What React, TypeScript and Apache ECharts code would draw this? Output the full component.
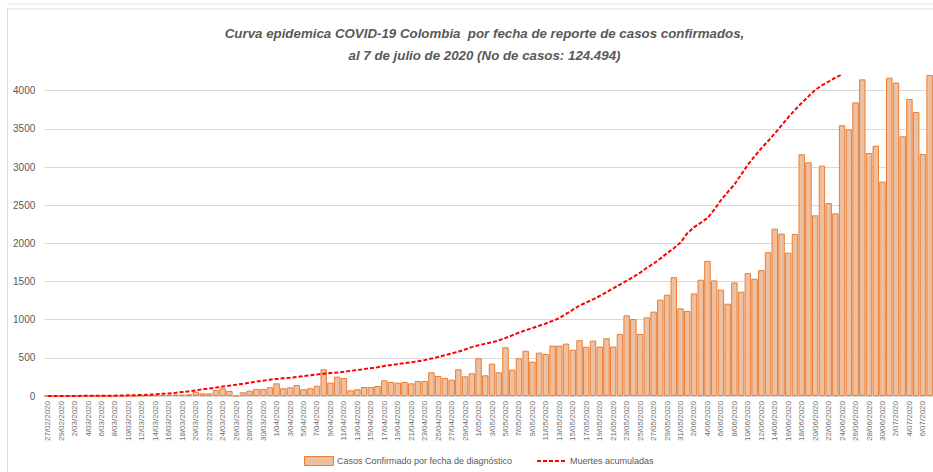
import React, { useEffect, useRef } from "react";
import * as echarts from "echarts";

const titleLines = [
  "Curva epidemica COVID-19 Colombia  por fecha de reporte de casos confirmados,",
  "al 7 de julio de 2020 (No de casos: 124.494)",
];

const dates = [
  "27/02/2020","28/02/2020","29/02/2020","1/03/2020","2/03/2020","3/03/2020","4/03/2020","5/03/2020","6/03/2020","7/03/2020",
  "8/03/2020","9/03/2020","10/03/2020","11/03/2020","12/03/2020","13/03/2020","14/03/2020","15/03/2020","16/03/2020","17/03/2020",
  "18/03/2020","19/03/2020","20/03/2020","21/03/2020","22/03/2020","23/03/2020","24/03/2020","25/03/2020","26/03/2020","27/03/2020",
  "28/03/2020","29/03/2020","30/03/2020","31/03/2020","1/04/2020","2/04/2020","3/04/2020","4/04/2020","5/04/2020","6/04/2020",
  "7/04/2020","8/04/2020","9/04/2020","10/04/2020","11/04/2020","12/04/2020","13/04/2020","14/04/2020","15/04/2020","16/04/2020",
  "17/04/2020","18/04/2020","19/04/2020","20/04/2020","21/04/2020","22/04/2020","23/04/2020","24/04/2020","25/04/2020","26/04/2020",
  "27/04/2020","28/04/2020","29/04/2020","30/04/2020","1/05/2020","2/05/2020","3/05/2020","4/05/2020","5/05/2020","6/05/2020",
  "7/05/2020","8/05/2020","9/05/2020","10/05/2020","11/05/2020","12/05/2020","13/05/2020","14/05/2020","15/05/2020","16/05/2020",
  "17/05/2020","18/05/2020","19/05/2020","20/05/2020","21/05/2020","22/05/2020","23/05/2020","24/05/2020","25/05/2020","26/05/2020",
  "27/05/2020","28/05/2020","29/05/2020","30/05/2020","31/05/2020","1/06/2020","2/06/2020","3/06/2020","4/06/2020","5/06/2020",
  "6/06/2020","7/06/2020","8/06/2020","9/06/2020","10/06/2020","11/06/2020","12/06/2020","13/06/2020","14/06/2020","15/06/2020",
  "16/06/2020","17/06/2020","18/06/2020","19/06/2020","20/06/2020","21/06/2020","22/06/2020","23/06/2020","24/06/2020","25/06/2020",
  "26/06/2020","27/06/2020","28/06/2020","29/06/2020","30/06/2020","1/07/2020","2/07/2020","3/07/2020","4/07/2020","5/07/2020",
  "6/07/2020","7/07/2020",
];

const casos = [
  0, 0, 0, 0, 0, 0, 0, 0, 1, 0,
  1, 3, 3, 2, 7, 9, 11, 12, 15, 20,
  18, 22, 56, 35, 35, 79, 101, 66, 4, 48,
  70, 92, 92, 114, 166, 101, 114, 144, 88, 101,
  135, 350, 175, 253, 236, 74, 88, 118, 118, 131,
  205, 183, 175, 183, 166, 197, 197, 310, 262, 236,
  214, 350, 258, 297, 494, 271, 424, 310, 638, 345,
  494, 594, 450, 568, 550, 660, 660, 686, 606, 731,
  644, 726, 648, 757, 648, 813, 1057, 1009, 813, 1031,
  1105, 1262, 1327, 1557, 1148, 1114, 1344, 1523, 1770, 1514,
  1392, 1209, 1488, 1366, 1610, 1536, 1649, 1884, 2192, 2127,
  1878, 2122, 3166, 3061, 2367, 3017, 2528, 2393, 3546, 3493,
  3847, 4148, 3183, 3279, 2808, 4170, 4105, 3402, 3891, 3720,
  3170, 4400,
];

const muertes = [
  0, 0, 0, 1, 1, 2, 2, 3, 3, 4,
  5, 7, 9, 11, 13, 17, 22, 28, 33, 42,
  52, 62, 74, 86, 98, 110, 123, 136, 148, 161,
  175, 188, 201, 214, 224, 232, 240, 250, 261, 272,
  283, 292, 300, 307, 318, 330, 341, 352, 365, 378,
  392, 405, 418, 430, 442, 455, 470, 490, 512, 535,
  558, 580, 610, 640, 665, 685, 704, 728, 760, 795,
  830, 862, 890, 920, 950, 985, 1020, 1075, 1130, 1185,
  1225, 1265, 1310, 1360, 1410, 1460, 1510, 1560, 1615, 1680,
  1735, 1800, 1870, 1935, 2010, 2130, 2210, 2270, 2330, 2440,
  2565, 2670, 2770, 2900, 3030, 3140, 3245, 3340, 3440, 3545,
  3650, 3748, 3840, 3925, 4010, 4070, 4119, 4170, 4215, null,
  null, null, null, null, null, null, null, null, null, null,
  null, null,
];

const seriesNames = ["Casos Confirmado por fecha de diagnóstico", "Muertes acumuladas"];

const FONT = "'Liberation Sans', Arial, sans-serif";
const GRAY = "#595959";
const BAR_FILL = "#EDC0A1";
const BAR_BORDER = "#ED7D31";
const LINE_RED = "#FF0000";

export default function App() {
  const ref = useRef<HTMLDivElement>(null);
  useEffect(() => {
    document.body.style.margin = "0";
    const chart = echarts.init(ref.current!, undefined, { renderer: "svg" });
    const gridColors = Array.from({ length: 9 }, () => "#d9d9d9").concat(["rgba(0,0,0,0)"]);
    chart.setOption({
      animation: false,
      backgroundColor: "#ffffff",
      textStyle: { fontFamily: FONT },
      graphic: [
        { type: "line", shape: { x1: 7, y1: 4, x2: 933, y2: 4 }, style: { stroke: "#e3e3e3", lineWidth: 1 } },
        { type: "line", shape: { x1: 7, y1: 9, x2: 933, y2: 9 }, style: { stroke: "#d9d9d9", lineWidth: 1 } },
        { type: "line", shape: { x1: 7.5, y1: 9, x2: 7.5, y2: 472 }, style: { stroke: "#d9d9d9", lineWidth: 1 } },
        {
          type: "text", x: 484.5, y: 33,
          style: { text: titleLines[0], fill: GRAY, font: `italic bold 13.3px ${FONT}`, align: "center", verticalAlign: "middle" },
        },
        {
          type: "text", x: 484.5, y: 55,
          style: { text: titleLines[1], fill: GRAY, font: `italic bold 13.3px ${FONT}`, align: "center", verticalAlign: "middle" },
        },
        // legend
        {
          type: "rect", shape: { x: 304.5, y: 456.5, width: 29, height: 9 },
          style: { fill: BAR_FILL, stroke: BAR_BORDER, lineWidth: 1 },
        },
        {
          type: "text", x: 337, y: 461,
          style: { text: seriesNames[0], fill: GRAY, font: `9px ${FONT}`, align: "left", verticalAlign: "middle" },
        },
        {
          type: "line", shape: { x1: 537, y1: 461, x2: 566, y2: 461 },
          style: { stroke: LINE_RED, lineWidth: 2, lineDash: [4, 2] },
        },
        {
          type: "text", x: 570, y: 461,
          style: { text: seriesNames[1], fill: GRAY, font: `9px ${FONT}`, align: "left", verticalAlign: "middle" },
        },
      ],
      grid: { left: 44.3, top: 75.4, width: 891, height: 320.6, containLabel: false },
      xAxis: {
        type: "category",
        data: dates,
        boundaryGap: true,
        axisLine: { lineStyle: { color: "#d9d9d9" } },
        axisTick: { show: false },
        axisLabel: { interval: 1, rotate: 90, fontSize: 8, color: "#6f6f6f", margin: 5, fontFamily: FONT },
      },
      yAxis: {
        type: "value",
        min: 0,
        max: 4200,
        interval: 500,
        axisLine: { show: false },
        axisTick: { show: false },
        axisLabel: {
          fontSize: 10, color: GRAY, margin: 9, fontFamily: FONT,
          formatter: (v: number) => (v % 500 === 0 ? String(v) : ""),
        },
        splitLine: { lineStyle: { color: gridColors, width: 1 } },
      },
      series: [
        {
          name: seriesNames[0],
          type: "bar",
          data: casos,
          barCategoryGap: "4%",
          clip: true,
          itemStyle: { color: BAR_FILL, borderColor: BAR_BORDER, borderWidth: 1 },
        },
        {
          name: seriesNames[1],
          type: "line",
          data: muertes,
          showSymbol: false,
          symbol: "none",
          clip: true,
          connectNulls: false,
          lineStyle: { color: LINE_RED, width: 2, type: [4, 2] },
          itemStyle: { color: LINE_RED },
        },
      ],
    });
    return () => chart.dispose();
  }, []);
  return <div ref={ref} style={{ width: 933, height: 472 }} />;
}
